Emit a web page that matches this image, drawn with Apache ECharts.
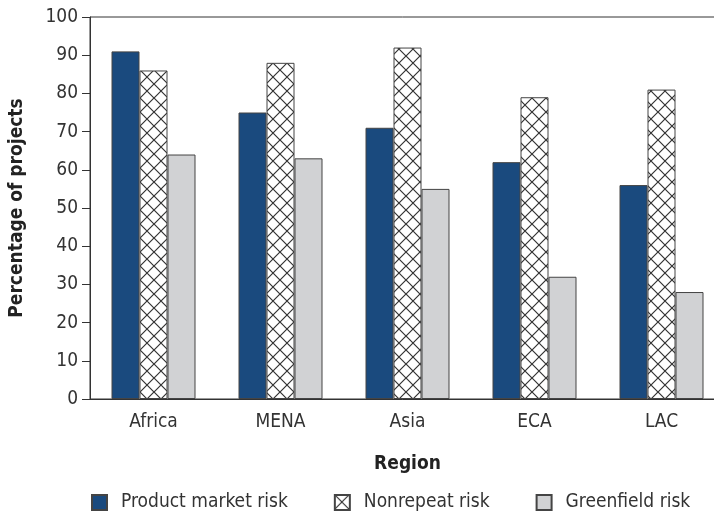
<!DOCTYPE html>
<html lang="en">
<head>
	<meta charset="UTF-8">
	<title>chart</title>
	<style type="text/css">
	body,html{
		width: 100%;
		height: 100%;
		margin: 0;
		padding: 0;
		background: #fff;
	}
	#main{
		width: 714px;
		height: 519px;
	}
	</style>
</head>
<body>
<div id="main"></div>
<script type="text/javascript" src="https://cdn.jsdelivr.net/npm/echarts@6/dist/echarts.min.js"></script>
<script type="text/javascript">
	var regions = ['Africa', 'MENA', 'Asia', 'ECA', 'LAC'];
	var productMarket = [91, 75, 71, 62, 56];
	var nonrepeat = [86, 88, 92, 79, 81];
	var greenfield = [64, 63, 55, 32, 28];

	var font = '"Liberation Sans Narrow", "DejaVu Sans Condensed", sans-serif';

	/*cross hatch*/
	var hatch = document.createElement('canvas');
	hatch.width = 14;
	hatch.height = 14;
	var ctx = hatch.getContext('2d');
	ctx.fillStyle = '#fff';
	ctx.fillRect(0, 0, 14, 14);
	ctx.strokeStyle = '#333';
	ctx.lineWidth = 1.2;
	ctx.beginPath();
	ctx.moveTo(0, 0); ctx.lineTo(14, 14);
	ctx.moveTo(14, 0); ctx.lineTo(0, 14);
	ctx.stroke();

	var chart = echarts.init(document.getElementById('main'));

	var option = {
		animation: false,
		textStyle: { fontFamily: font },
		grid: {
			left: 90, top: 17, width: 635, height: 382,
			outerBoundsMode: 'none',
			show: true, borderColor: '#333', borderWidth: 1
		},
		legend: {
			left: 86, top: 488,
			icon: 'rect',
			itemWidth: 15, itemHeight: 15, itemGap: 46,
			textStyle: { fontSize: 19, color: '#333', fontFamily: font, padding: [0, 0, 0, 9] },
			data: ['Product market risk', 'Nonrepeat risk', 'Greenfield risk']
		},
		xAxis: {
			type: 'category',
			data: regions,
			name: 'Region',
			nameLocation: 'middle',
			nameGap: 56,
			nameTextStyle: { fontSize: 19, fontWeight: 'bold', color: '#222', fontFamily: font },
			axisLine: { lineStyle: { color: '#333' } },
			axisTick: { length: 8, lineStyle: { color: '#333' } },
			axisLabel: { fontSize: 19, color: '#333', margin: 14 }
		},
		yAxis: {
			type: 'value',
			min: 0, max: 100, interval: 10,
			name: 'Percentage of projects',
			nameLocation: 'middle',
			nameGap: 63,
			nameTextStyle: { fontSize: 19, fontWeight: 'bold', color: '#222', fontFamily: font },
			axisLine: { show: true, lineStyle: { color: '#333' } },
			axisTick: { show: true, length: 8, lineStyle: { color: '#333' } },
			axisLabel: { fontSize: 19, color: '#333', margin: 12 },
			splitLine: { show: false }
		},
		series: [{
			name: 'Product market risk',
			type: 'bar',
			barWidth: 28,
			barGap: '0%',
			data: productMarket,
			itemStyle: { color: '#1a4a7e', borderColor: '#444', borderWidth: 1 }
		}, {
			name: 'Nonrepeat risk',
			type: 'bar',
			barWidth: 28,
			data: nonrepeat,
			itemStyle: { color: { image: hatch, repeat: 'repeat' }, borderColor: '#444', borderWidth: 1 }
		}, {
			name: 'Greenfield risk',
			type: 'bar',
			barWidth: 28,
			data: greenfield,
			itemStyle: { color: '#d1d2d4', borderColor: '#444', borderWidth: 1 }
		}]
	};

	chart.setOption(option);
</script>
</body>
</html>
